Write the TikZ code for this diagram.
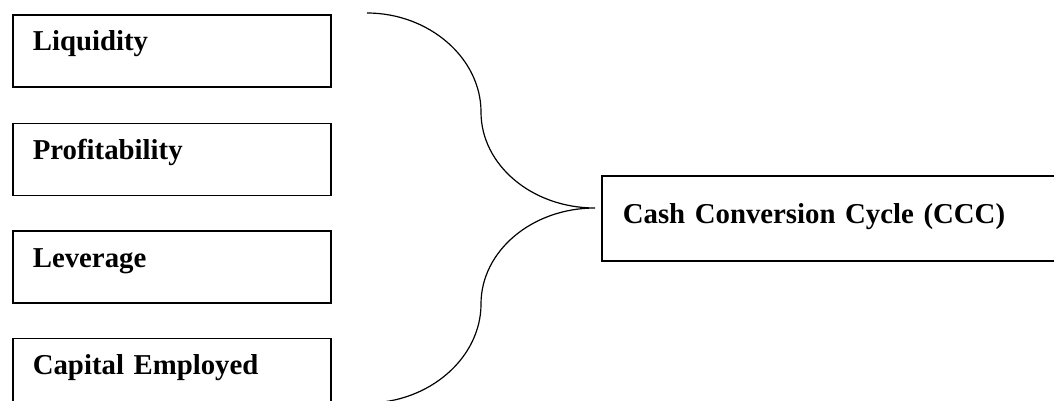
\documentclass[tikz,border=0pt]{standalone}
\usepackage{fontspec}
\setmainfont{Liberation Serif}
\usetikzlibrary{positioning}

\begin{document}
\begin{tikzpicture}[x=0.5pt, y=-0.5pt,
    factor/.style={draw, line width=0.8pt, align=left, text width=139pt,
        inner xsep=10pt, inner ysep=0pt, text height=18pt, text depth=18pt,
        font=\bfseries\fontsize{14.4}{16}\selectfont},
    outcome/.style={draw, line width=0.8pt, align=left, text width=250pt,
        inner xsep=10.5pt, inner ysep=0pt, text height=24pt, text depth=18.5pt,
        font=\bfseries\fontsize{14.4}{16}\selectfont},
    brace/.style={line width=0.6pt}]

% Frame
\useasboundingbox (0,0) rectangle (1054,401);
\clip (0,0) rectangle (1054,401);

% Determinants
\node[factor, anchor=north west] (liq) at (12,14) {Liquidity};
\node[factor, below=17.5pt of liq] (prof) {Profitability};
\node[factor, below=17pt of prof] (lev) {Leverage};
\node[factor, below=17pt of lev] (cap) {Capital Employed};

% Outcome
\node[outcome, anchor=north west] (ccc) at (601,175) {Cash Conversion Cycle (CCC)};

% Brace
\coordinate (top) at (367,13);
\coordinate (tip) at (595,208);
\coordinate (bot) at (367,403);
\draw[brace] (top) .. controls (429,13) and (481,58) .. (481,112)
    .. controls (481,165) and (532,208) .. (tip)
    .. controls (532,208) and (481,251) .. (481,304)
    .. controls (481,358) and (429,403) .. (bot);

\end{tikzpicture}
\end{document}
